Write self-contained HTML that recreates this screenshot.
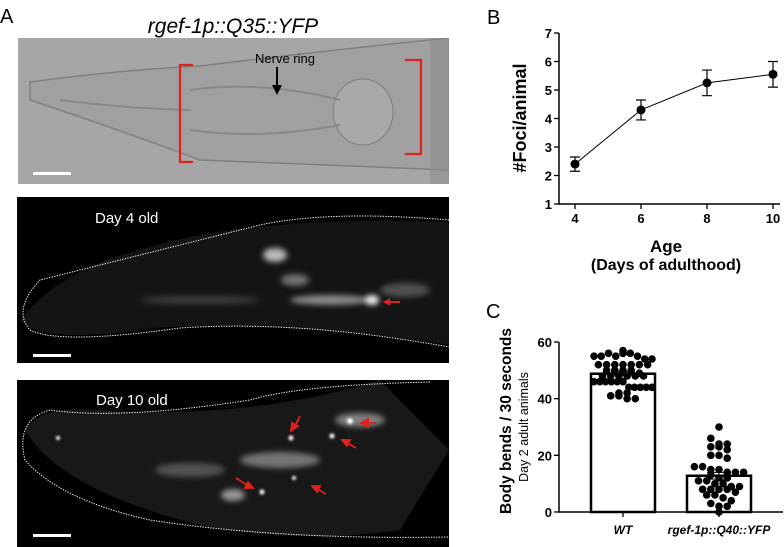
<!DOCTYPE html>
<html><head><meta charset="utf-8"><style>
body{margin:0;background:#fff;width:784px;height:547px;overflow:hidden;font-family:"Liberation Sans",sans-serif}
svg{position:absolute;left:0;top:0}
</style></head><body>
<svg width="784" height="547" viewBox="0 0 784 547">
<defs>
<filter id="bl" x="-50%" y="-50%" width="200%" height="200%"><feGaussianBlur stdDeviation="3"/></filter>
<filter id="bl2" x="-50%" y="-50%" width="200%" height="200%"><feGaussianBlur stdDeviation="1.2"/></filter>
<clipPath id="c1"><rect x="18" y="38" width="431" height="146"/></clipPath>
<clipPath id="c2"><rect x="17" y="197" width="432" height="166"/></clipPath>
<clipPath id="c3"><rect x="17" y="380" width="432" height="167"/></clipPath>
</defs>
<text x="0" y="23" font-size="20">A</text>
<text x="233" y="33" font-size="21" font-style="italic" text-anchor="middle">rgef-1p::Q35::YFP</text>
<g clip-path="url(#c1)">
<rect x="18" y="38" width="431" height="146" fill="#a6a6a6"/>
<path d="M30 82 Q120 70 200 66 Q330 50 449 38 L449 170 Q330 165 200 160 Q120 130 30 100 Z" fill="#a0a0a0" stroke="#808080" stroke-width="1.5"/>
<ellipse cx="363" cy="112" rx="30" ry="33" fill="#a8a8a8" stroke="#7e7e7e"/>
<path d="M190 90 Q260 80 340 100 M190 130 Q260 140 340 125 M60 100 Q120 108 190 110" stroke="#888" fill="none" stroke-width="2"/>
<rect x="430" y="38" width="19" height="146" fill="#8a8a8a" opacity=".5"/>
</g>
<path d="M193 65 H180 V162 H193" stroke="#e0201c" stroke-width="2.2" fill="none"/>
<path d="M405 60 H421 V154 H405" stroke="#e0201c" stroke-width="2.2" fill="none"/>
<text x="285" y="63" font-size="13" text-anchor="middle">Nerve ring</text>
<path d="M277 67 V90" stroke="#000" stroke-width="2"/><path d="M272 85 L277 95 L282 85 Z" fill="#000"/>
<rect x="33" y="172" width="38" height="3" fill="#fff"/>

<g clip-path="url(#c2)">
<rect x="17" y="197" width="432" height="166" fill="#000"/>
<path d="M20 320 Q60 270 140 250 Q250 215 449 222 L449 345 Q300 320 150 328 Q40 345 20 320 Z" fill="#141414"/>
<g filter="url(#bl)" fill="#fff">
<ellipse cx="275" cy="255" rx="12" ry="7" opacity=".7"/>
<ellipse cx="330" cy="300" rx="40" ry="5" opacity=".5"/>
<ellipse cx="372" cy="300" rx="7" ry="5" opacity=".95"/>
<ellipse cx="295" cy="280" rx="14" ry="6" opacity=".4"/>
<ellipse cx="200" cy="300" rx="60" ry="4" opacity=".18"/>
<ellipse cx="405" cy="290" rx="25" ry="7" opacity=".25"/>
</g>
<path d="M449 220 Q330 210 260 225 Q120 260 40 280 Q12 310 30 330 Q60 345 180 328 Q300 320 449 347" stroke="#fff" stroke-dasharray="1.3 1.3" fill="none" stroke-width="1"/>
</g>
<text x="95" y="223" font-size="15" fill="#fff">Day 4 old</text>
<path d="M400 302 H388" stroke="#e0201c" stroke-width="2"/><path d="M390 298 L383 302 L390 306 Z" fill="#e0201c"/>
<rect x="33" y="354" width="38" height="3" fill="#fff"/>

<g clip-path="url(#c3)">
<rect x="17" y="380" width="432" height="167" fill="#000"/>
<path d="M25 430 Q40 405 100 410 Q250 420 380 380 L449 450 L400 530 Q300 545 200 525 Q60 490 25 430 Z" fill="#181818"/>
<g filter="url(#bl)" fill="#fff">
<ellipse cx="280" cy="460" rx="40" ry="8" opacity=".4"/>
<ellipse cx="233" cy="495" rx="12" ry="6" opacity=".55"/>
<ellipse cx="360" cy="420" rx="25" ry="7" opacity=".45"/>
<ellipse cx="190" cy="470" rx="35" ry="7" opacity=".25"/>
</g>
<g filter="url(#bl2)" fill="#fff">
<circle cx="350" cy="421" r="3"/><circle cx="332" cy="436" r="2.5"/><circle cx="291" cy="438" r="2.5"/><circle cx="262" cy="492" r="2.5"/><circle cx="294" cy="478" r="2"/><circle cx="58" cy="438" r="2"/>
</g>
<path d="M430 382 Q300 385 250 400 Q120 420 50 410 Q15 420 25 460 Q60 500 150 520 Q280 540 449 537" stroke="#fff" stroke-dasharray="1.3 1.3" fill="none" stroke-width="1"/>
</g>
<text x="96" y="405" font-size="15" fill="#fff">Day 10 old</text>
<g stroke="#e0201c" stroke-width="1.8" fill="#e0201c">
<path d="M300 416 L295 426"/><path d="M291 431 L292 423 L298 426 Z"/>
<path d="M376 423 H366"/><path d="M361 423 L368 419 L368 427 Z"/>
<path d="M356 448 L347 443"/><path d="M342 440 L350 440 L347 446 Z"/>
<path d="M236 478 L247 485"/><path d="M253 488 L245 488 L248 482 Z"/>
<path d="M326 494 L317 489"/><path d="M312 486 L320 486 L317 492 Z"/>
</g>
<rect x="33" y="534" width="38" height="3" fill="#fff"/>

<text x="487" y="24" font-size="20">B</text>
<g id="chartB"></g>
<text x="486" y="318" font-size="20">C</text>
<g id="chartC"></g>
</svg>
<script>
const ageDays=[4,6,8,10];
const fociMean=[2.4,4.3,5.25,5.55];
const fociErr=[0.25,0.35,0.45,0.45];
const fociTicks=[1,2,3,4,5,6,7];
const groupNames=["WT","rgef-1p::Q40::YFP"];
const wtValues=[55,55,56,55,56,57,56,55,54,54,52,52,52,52,52,52,52,50,50,50,50,49,48,48,48,48,48,48,46,46,46,46,46,46,44,44,44,44,44,41,41,42,42,40,40];
const q40Values=[30,26,24,24,23,23,22,20,20,19,16,16,15,15,14,14,14,13,12,12,11,11,10,10,9,9,8,8,8,8,7,6,6,5,4,3,2,2,0];
const bendTicks=[0,20,40,60];
const NS="http://www.w3.org/2000/svg";
function mk(p,t,a){const e=document.createElementNS(NS,t);for(const k in a)e.setAttribute(k,a[k]);p.appendChild(e);return e;}
// Chart B
const B=document.getElementById('chartB');
const bx=v=>575+(v-4)*33, by=v=>204-(v-1)*28.5;
let e=mk(B,'path',{d:'M559 33 V204 H780',stroke:'#000','stroke-width':1.5,fill:'none'});

fociTicks.forEach(t=>{mk(B,'line',{x1:554,x2:559,y1:by(t),y2:by(t),stroke:'#000','stroke-width':1.3});
 e=mk(B,'text',{x:552,y:by(t)+5,'font-size':13,'font-weight':'bold','text-anchor':'end'});e.textContent=t;
 });
ageDays.forEach(d=>{mk(B,'line',{x1:bx(d),x2:bx(d),y1:204,y2:209,stroke:'#000','stroke-width':1.3});
 e=mk(B,'text',{x:bx(d),y:223,'font-size':13,'font-weight':'bold','text-anchor':'middle'});e.textContent=d;
 });
e=mk(B,'polyline',{points:ageDays.map((d,i)=>bx(d)+','+by(fociMean[i])).join(' '),fill:'none',stroke:'#000','stroke-width':1});

ageDays.forEach((d,i)=>{const x=bx(d),t=by(fociMean[i]+fociErr[i]),b=by(fociMean[i]-fociErr[i]);
 mk(B,'path',{d:`M${x} ${t} V${b} M${x-5} ${t} H${x+5} M${x-5} ${b} H${x+5}`,stroke:'#000','stroke-width':1.2});
 e=mk(B,'circle',{cx:x,cy:by(fociMean[i]),r:4.5});
 });
e=mk(B,'text',{transform:'translate(526,118) rotate(-90)','font-size':18,'font-weight':'bold','text-anchor':'middle'});e.textContent='#Foci/animal';

e=mk(B,'text',{x:666,y:252,'font-size':17,'font-weight':'bold','text-anchor':'middle'});e.textContent='Age';

e=mk(B,'text',{x:666,y:270,'font-size':16,'font-weight':'bold','text-anchor':'middle'});e.textContent='(Days of adulthood)';

// Chart C
const C=document.getElementById('chartC');
const cy=v=>512-v*(170/60);
const centers=[623,719];
e=mk(C,'path',{d:'M559 342 V512 H783',stroke:'#000','stroke-width':1.5,fill:'none'});

bendTicks.forEach(t=>{mk(C,'line',{x1:554,x2:559,y1:cy(t),y2:cy(t),stroke:'#000','stroke-width':1.3});
 e=mk(C,'text',{x:552,y:cy(t)+5,'font-size':13,'font-weight':'bold','text-anchor':'end'});e.textContent=t;
 });
[wtValues,q40Values].forEach((vals,g)=>{
 const m=vals.reduce((a,b)=>a+b,0)/vals.length;
 const sd=Math.sqrt(vals.reduce((a,b)=>a+(b-m)*(b-m),0)/(vals.length-1)),se=sd/Math.sqrt(vals.length);
 const c=centers[g];
 mk(C,'line',{x1:c,x2:c,y1:512,y2:517,stroke:'#000','stroke-width':1.3});
 e=mk(C,'rect',{x:c-32,y:cy(m),width:64,height:512-cy(m),fill:'#fff',stroke:'#000','stroke-width':2.5});
 
 const groups={};vals.forEach(v=>{const k=Math.round(v/2.5);(groups[k]=groups[k]||[]).push(v);});
 Object.keys(groups).forEach(k=>{const arr=groups[k],n=arr.length;const sp=n>8?58/(n-1):8.2;arr.forEach((v,i)=>{
  const off=(i-(n-1)/2)*sp;
  e=mk(C,'circle',{cx:c+off,cy:cy(v),r:3.8});
  });});
 mk(C,'path',{d:`M${c} ${cy(m+se)} V${cy(m-se)} M${c-12} ${cy(m+se)} H${c+12} M${c-12} ${cy(m-se)} H${c+12}`,stroke:'#000','stroke-width':1});
 e=mk(C,'text',{x:c,y:534,'font-size':12,'font-weight':'bold','font-style':'italic','text-anchor':'middle'});e.textContent=groupNames[g];
 
});
e=mk(C,'text',{transform:'translate(511,421) rotate(-90)','font-size':15.5,'font-weight':'bold','text-anchor':'middle'});e.textContent='Body bends / 30 seconds';

e=mk(C,'text',{transform:'translate(528,427) rotate(-90)','font-size':12.5,'text-anchor':'middle'});e.textContent='Day 2 adult animals';

</script>
</body></html>
